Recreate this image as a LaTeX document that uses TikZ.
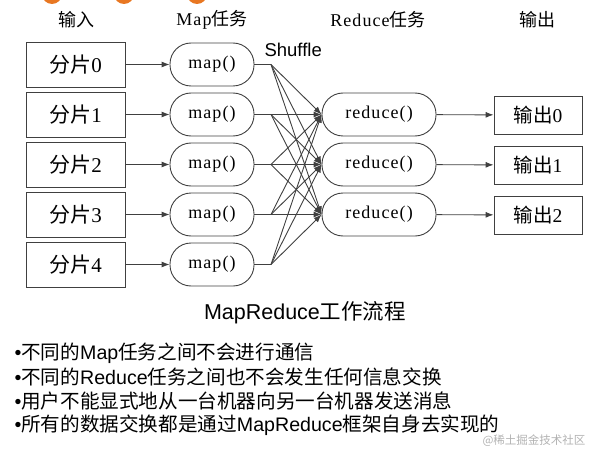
\documentclass[tikz,border=0pt]{standalone}
\usepackage{fontspec}
\setmainfont{Liberation Serif}
\newfontfamily\cjk{Noto Sans CJK SC}
\newfontfamily\arial{Liberation Sans}
\newfontfamily\songlatin[LetterSpace=6]{Liberation Serif}
\usetikzlibrary{arrows.meta,positioning}
\definecolor{linegray}{RGB}{64,64,64}
\definecolor{dotorange}{RGB}{232,119,34}
\definecolor{markgray}{RGB}{178,178,178}

\begin{document}
\begin{tikzpicture}[x=1pt, y=-1pt,
  head/.style={font=\fontsize{18}{18}\selectfont\songlatin},
  split/.style={draw=linegray, line width=0.9pt, minimum width=99pt, minimum height=45pt,
    font=\fontsize{21}{21}\selectfont\songlatin},
  mapper/.style={draw=linegray, line width=0.9pt, rounded corners=21pt, minimum width=84pt,
    minimum height=43pt, font=\fontsize{18}{18}\selectfont\songlatin},
  reducer/.style={mapper, minimum width=114pt},
  outbox/.style={draw=linegray, line width=0.9pt, minimum width=88pt, minimum height=38pt,
    font=\fontsize{19.5}{19.5}\selectfont\songlatin},
  flow/.style={draw=linegray, line width=0.9pt, -{Latex[length=8pt,width=6pt]}},
  link/.style={draw=linegray, line width=0.9pt},
  bullet/.style={anchor=west, font=\fontsize{19.6}{19.6}\selectfont\arial}]

\useasboundingbox (0,0) rectangle (593,449);

% cut-off dots at the top edge
\fill[dotorange] (52,-6) circle (10pt);
\fill[dotorange] (124,-6) circle (10pt);
\fill[dotorange] (197,-6) circle (10pt);

% column heads
\node[head] (hin)  at (76,20)  {\cjk 输入};
\node[head] (hmap) at (212,20) {Map{\cjk 任务}};
\node[head] (hred) at (378,20) {Reduce{\cjk 任务}};
\node[head] (hout) at (537,20) {\cjk 输出};

% input splits
\node[split] (i0) at (75.5,64.5)  {{\cjk 分片}0};
\node[split] (i1) at (75.5,114.5) {{\cjk 分片}1};
\node[split] (i2) at (75.5,164.5) {{\cjk 分片}2};
\node[split] (i3) at (75.5,214.5) {{\cjk 分片}3};
\node[split] (i4) at (75.5,264.5) {{\cjk 分片}4};

% map tasks
\node[mapper] (m0) at (212,64.5)  {map()};
\node[mapper] (m1) at (212,114.5) {map()};
\node[mapper] (m2) at (212,164.5) {map()};
\node[mapper] (m3) at (212,214.5) {map()};
\node[mapper] (m4) at (212,264.5) {map()};

% reduce tasks
\node[reducer] (r0) at (379,114.5) {reduce()};
\node[reducer] (r1) at (379,164.5) {reduce()};
\node[reducer] (r2) at (379,214.5) {reduce()};

% outputs
\node[outbox] (o0) at (538,115) {{\cjk 输出}0};
\node[outbox] (o1) at (538,165) {{\cjk 输出}1};
\node[outbox] (o2) at (538,215) {{\cjk 输出}2};

\node[anchor=west, font=\fontsize{18.5}{18.5}\selectfont\arial] (shuf) at (261,50) {Shuffle};

% shuffle fan-out points
\coordinate (s0) at (271,64.5);
\coordinate (s1) at (271,114.5);
\coordinate (s2) at (271,164.5);
\coordinate (s3) at (271,214.5);
\coordinate (s4) at (271,264.5);

\foreach \k in {0,...,4} {
  \draw[flow] (i\k) -- (m\k);
  \draw[link] (m\k) -- (s\k);
  \foreach \j in {0,1,2}
    \draw[flow] (s\k) -- (r\j.west);
}
\foreach \j in {0,1,2}
  \draw[flow] (r\j) -- (o\j);

% caption and notes
\node[font=\fontsize{21.5}{21.5}\selectfont\arial] (title) at (305,313) {MapReduce{\cjk 工作流程}};
\node[bullet] (b1) at (11,353) {•{\cjk 不同的}Map{\cjk 任务之间不会进行通信}};
\node[bullet] (b2) at (11,377) {•{\cjk 不同的}Reduce{\cjk 任务之间也不会发生任何信息交换}};
\node[bullet] (b3) at (11,401) {•{\cjk 用户不能显式地从一台机器向另一台机器发送消息}};
\node[bullet] (b4) at (11,425) {•{\cjk 所有的数据交换都是通过}MapReduce{\cjk 框架自身去实现的}};
\node[anchor=east, text=markgray, font=\fontsize{11.5}{11.5}\selectfont\cjk] (mark) at (589,441) {@稀土掘金技术社区};

\end{tikzpicture}
\end{document}
